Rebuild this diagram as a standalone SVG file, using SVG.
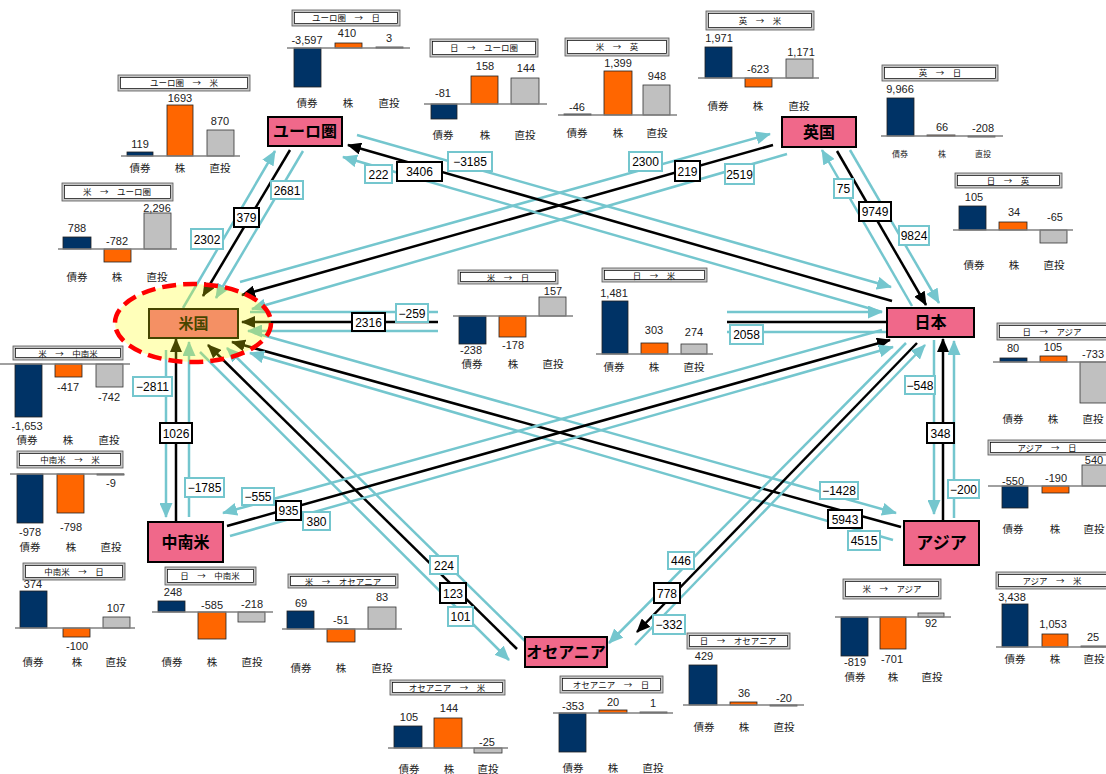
<svg xmlns="http://www.w3.org/2000/svg" width="1106" height="774" viewBox="0 0 1106 774">
<defs>
<marker id="ac" markerUnits="userSpaceOnUse" markerWidth="15" markerHeight="13" refX="14" refY="6.5" orient="auto"><path d="M0,0 L15,6.5 L0,13 z" fill="#74C6CE"/></marker>
<marker id="ab" markerUnits="userSpaceOnUse" markerWidth="14" markerHeight="12" refX="13" refY="6" orient="auto"><path d="M0,0 L14,6 L0,12 z" fill="#000"/></marker>
<style>
.cy{stroke:#74C6CE;stroke-width:2.5;fill:none;marker-end:url(#ac)}
.bk{stroke:#000;stroke-width:2.5;fill:none;marker-end:url(#ab)}
.nm{marker-end:none}
.lc{fill:#fff;stroke:#74C6CE;stroke-width:2}
.lb{fill:#fff;stroke:#000;stroke-width:2}
.lt{font-family:"Liberation Sans",Arial,sans-serif;font-size:12px;text-anchor:middle;fill:#000}
.nd{fill:#F0688A;stroke:#000;stroke-width:2}
.nt{font-family:"Noto Sans CJK JP",sans-serif;font-weight:bold;font-size:15px;text-anchor:middle;fill:#000}
.to{fill:#c8c8c8;stroke:#555;stroke-width:0.8}
.ti{fill:#fff;stroke:#000;stroke-width:0.7}
.tt{font-family:"Noto Sans CJK JP",sans-serif;font-size:8.5px;text-anchor:middle;fill:#111}
.bs{stroke:#808080;stroke-width:1.5}
.n{fill:#003366;stroke:#222;stroke-width:0.8}
.o{fill:#FF6600;stroke:#222;stroke-width:0.8}
.g{fill:#C0C0C0;stroke:#333;stroke-width:0.8}
.v{font-family:"Liberation Sans",Arial,sans-serif;font-size:11px;text-anchor:middle;fill:#222}
.k{font-family:"Noto Sans CJK JP",sans-serif;font-size:10.5px;text-anchor:middle;fill:#222}
.ks{font-family:"Noto Sans CJK JP",sans-serif;font-size:8px;text-anchor:middle;fill:#222}
</style>
</defs>
<rect width="1106" height="774" fill="#fff"/>

<g id="connectors">
<path class="cy" d="M183,308 L275,151"/>
<path class="bk" d="M290,150 L203,296"/>
<path class="cy" d="M303,151 L216,298"/>
<path class="cy" d="M240,282 L770,134"/>
<path class="bk" d="M773,145 L242,295"/>
<path class="cy" d="M787,154 L252,309"/>
<path class="cy nm" d="M250,312 L438,312"/>
<path class="bk" d="M438,322 L242,322"/>
<path class="cy" d="M438,331 L248,331"/>
<path class="cy" d="M727,312 L882,312"/>
<path class="bk nm" d="M727,322 L887,322"/>
<path class="cy nm" d="M727,332 L887,332"/>
<path class="cy" d="M166,350 L166,517"/>
<path class="bk" d="M176,522 L176,339"/>
<path class="cy" d="M189,517 L189,342"/>
<path class="bk" d="M517,649 L208,345"/>
<path class="cy" d="M525,641 L227,348"/>
<path class="cy" d="M200,352 L509,660"/>
<path class="cy" d="M255,333 L896,513"/>
<path class="bk" d="M901,527 L232,342"/>
<path class="cy" d="M893,540 L250,353"/>
<path class="cy" d="M912,306 L822,150"/>
<path class="bk" d="M837,151 L926,305"/>
<path class="cy" d="M850,150 L939,303"/>
<path class="cy" d="M357,135 L891,287"/>
<path class="bk" d="M892,301 L348,145"/>
<path class="cy" d="M882,312 L343,157"/>
<path class="bk" d="M227,526 L890,340"/>
<path class="cy" d="M882,330 L223,513"/>
<path class="cy" d="M230,536 L893,347"/>
<path class="cy" d="M906,343 L609,643"/>
<path class="bk" d="M917,343 L637,632"/>
<path class="cy" d="M635,645 L925,345"/>
<path class="cy" d="M934,340 L934,514"/>
<path class="bk" d="M943,521 L943,339"/>
<path class="cy" d="M954,518 L954,341"/>

<rect class="lb" x="234" y="208" width="25" height="19"/><text class="lt" x="246.5" y="222">379</text>
<rect class="lb" x="397" y="162" width="45" height="19"/><text class="lt" x="419.5" y="176">3406</text>
<rect class="lb" x="675" y="161" width="25" height="20"/><text class="lt" x="687.5" y="175.5">219</text>
<rect class="lb" x="859" y="202" width="32" height="19"/><text class="lt" x="875" y="216">9749</text>
<rect class="lb" x="352" y="313" width="33" height="18"/><text class="lt" x="368.5" y="326.5">2316</text>
<rect class="lb" x="160" y="423" width="32" height="20"/><text class="lt" x="176" y="437.5">1026</text>
<rect class="lb" x="276" y="501" width="25" height="19"/><text class="lt" x="288.5" y="515">935</text>
<rect class="lb" x="828" y="510" width="34" height="18"/><text class="lt" x="845" y="523.5">5943</text>
<rect class="lb" x="440" y="583" width="26" height="20"/><text class="lt" x="453" y="597.5">123</text>
<rect class="lb" x="654" y="583" width="26" height="20"/><text class="lt" x="667" y="597.5">778</text>
<rect class="lb" x="927" y="423" width="27" height="20"/><text class="lt" x="940.5" y="437.5">348</text>

<rect class="lc" x="191" y="229" width="32" height="20"/><text class="lt" x="207" y="243.5">2302</text>
<rect class="lc" x="271" y="181" width="32" height="18"/><text class="lt" x="287" y="194.5">2681</text>
<rect class="lc" x="365" y="165" width="27" height="18"/><text class="lt" x="378.5" y="178.5">222</text>
<rect class="lc" x="448" y="152" width="44" height="19"/><text class="lt" x="470" y="166">−3185</text>
<rect class="lc" x="629" y="152" width="33" height="19"/><text class="lt" x="645.5" y="166">2300</text>
<rect class="lc" x="725" y="164" width="29" height="20"/><text class="lt" x="739.5" y="178.5">2519</text>
<rect class="lc" x="834" y="179" width="19" height="19"/><text class="lt" x="843.5" y="193">75</text>
<rect class="lc" x="899" y="226" width="30" height="19"/><text class="lt" x="914" y="240">9824</text>
<rect class="lc" x="396" y="304" width="32" height="18"/><text class="lt" x="412" y="317.5">−259</text>
<rect class="lc" x="730" y="325" width="33" height="19"/><text class="lt" x="746.5" y="339">2058</text>
<rect class="lc" x="133" y="377" width="39" height="19"/><text class="lt" x="152.5" y="391">−2811</text>
<rect class="lc" x="185" y="478" width="39" height="19"/><text class="lt" x="204.5" y="492">−1785</text>
<rect class="lc" x="242" y="488" width="32" height="17"/><text class="lt" x="258" y="501">−555</text>
<rect class="lc" x="303" y="512" width="27" height="18"/><text class="lt" x="316.5" y="525.5">380</text>
<rect class="lc" x="820" y="482" width="38" height="17"/><text class="lt" x="839" y="495">−1428</text>
<rect class="lc" x="848" y="531" width="32" height="19"/><text class="lt" x="864" y="545">4515</text>
<rect class="lc" x="430" y="556" width="28" height="18"/><text class="lt" x="444" y="569.5">224</text>
<rect class="lc" x="448" y="607" width="25" height="19"/><text class="lt" x="460.5" y="621">101</text>
<rect class="lc" x="668" y="552" width="26" height="17"/><text class="lt" x="681" y="565">446</text>
<rect class="lc" x="653" y="615" width="32" height="19"/><text class="lt" x="669" y="629">−332</text>
<rect class="lc" x="905" y="376" width="30" height="18"/><text class="lt" x="920" y="389.5">−548</text>
<rect class="lc" x="948" y="480" width="31" height="18"/><text class="lt" x="963.5" y="493.5">−200</text>
</g>

<g id="node-euro"><rect class="nd" x="268" y="117" width="74" height="29"/><text class="nt" x="305" y="137" style="font-size:16px">ユーロ圏</text></g>
<g id="node-uk"><rect class="nd" x="782" y="117" width="74" height="30"/><text class="nt" x="819" y="138" style="font-size:16px">英国</text></g>
<g id="node-japan"><rect class="nd" x="887" y="308" width="87" height="29"/><text class="nt" x="930.5" y="328" style="font-size:16px">日本</text></g>
<g id="node-asia"><rect class="nd" x="904" y="521" width="75" height="44"/><text class="nt" x="941.5" y="549" style="font-size:17px">アジア</text></g>
<g id="node-latam"><rect class="nd" x="148" y="522" width="75" height="40"/><text class="nt" x="185.5" y="548" style="font-size:16px">中南米</text></g>
<g id="node-oceania"><rect class="nd" x="525" y="637" width="82" height="30"/><text class="nt" x="566" y="658" style="font-size:16px">オセアニア</text></g>
<g id="node-us">
<rect class="nd" x="149" y="309" width="89" height="29"/><text class="nt" x="193.5" y="329">米国</text>
<ellipse cx="193" cy="323" rx="78" ry="39" fill="#FFFF00" fill-opacity="0.27" stroke="#FF0000" stroke-width="4.5" stroke-dasharray="14 7"/>
</g>

<g id="chart-eu-jp">
<rect class="to" x="292" y="10" width="108" height="16"/><rect class="ti" x="294.5" y="12.5" width="103" height="11"/>
<text class="tt" x="346" y="21">ユーロ圏　→　日</text>
<rect class="n" x="294" y="48" width="27" height="39"/><rect class="o" x="335" y="43" width="27" height="5"/><rect class="g" x="376" y="47" width="27" height="1"/>
<line class="bs" x1="287" y1="48" x2="410" y2="48"/>
<text class="v" x="307" y="44">-3,597</text><text class="v" x="347" y="37">410</text><text class="v" x="389" y="42">3</text>
<text class="k" x="307" y="107">債券</text><text class="k" x="348" y="107">株</text><text class="k" x="389" y="107">直投</text>
</g>
<g id="chart-jp-eu">
<rect class="to" x="430" y="39" width="108" height="18"/><rect class="ti" x="432.5" y="41.5" width="103" height="13"/>
<text class="tt" x="484" y="51">日　→　ユーロ圏</text>
<rect class="n" x="431" y="104" width="26" height="15"/><rect class="o" x="471" y="76" width="27" height="28"/><rect class="g" x="511" y="78" width="28" height="26"/>
<line class="bs" x1="424" y1="104" x2="547" y2="104"/>
<text class="v" x="443" y="97">-81</text><text class="v" x="485" y="70">158</text><text class="v" x="526" y="72">144</text>
<text class="k" x="443" y="139">債券</text><text class="k" x="485" y="139">株</text><text class="k" x="525" y="139">直投</text>
</g>
<g id="chart-us-uk">
<rect class="to" x="565" y="38" width="104" height="18"/><rect class="ti" x="567.5" y="40.5" width="99" height="13"/>
<text class="tt" x="617" y="50">米　→　英</text>
<rect class="n" x="564" y="114" width="27" height="1"/><rect class="o" x="604" y="71" width="28" height="44"/><rect class="g" x="643" y="85" width="27" height="30"/>
<line class="bs" x1="558" y1="115" x2="677" y2="115"/>
<text class="v" x="577" y="111">-46</text><text class="v" x="618" y="67">1,399</text><text class="v" x="657" y="80">948</text>
<text class="k" x="577" y="137">債券</text><text class="k" x="618" y="137">株</text><text class="k" x="657" y="137">直投</text>
</g>
<g id="chart-uk-us">
<rect class="to" x="706" y="11" width="108" height="19"/><rect class="ti" x="708.5" y="13.5" width="103" height="14"/>
<text class="tt" x="760" y="24">英　→　米</text>
<rect class="n" x="705" y="47" width="27" height="31"/><rect class="o" x="745" y="78" width="27" height="9"/><rect class="g" x="786" y="59" width="27" height="19"/>
<line class="bs" x1="698" y1="78" x2="819" y2="78"/>
<text class="v" x="719" y="42">1,971</text><text class="v" x="758" y="73">-623</text><text class="v" x="801" y="56">1,171</text>
<text class="k" x="718" y="110">債券</text><text class="k" x="758" y="110">株</text><text class="k" x="799" y="110">直投</text>
</g>
<g id="chart-uk-jp">
<rect class="to" x="882" y="65" width="116" height="16"/><rect class="ti" x="884.5" y="67.5" width="111" height="11"/>
<text class="tt" x="940" y="76">英　→　日</text>
<rect class="n" x="887" y="98" width="27" height="38"/><rect class="o" x="927" y="135" width="28" height="1"/><rect class="g" x="968" y="136" width="27" height="1"/>
<line class="bs" x1="881" y1="136" x2="1003" y2="136"/>
<text class="v" x="900" y="93">9,966</text><text class="v" x="942" y="131">66</text><text class="v" x="983" y="132">-208</text>
<text class="ks" x="900" y="157">債券</text><text class="ks" x="942" y="157">株</text><text class="ks" x="983" y="157">直投</text>
</g>
<g id="chart-jp-uk">
<rect class="to" x="955" y="173" width="107" height="15"/><rect class="ti" x="957.5" y="175.5" width="102" height="10"/>
<text class="tt" x="1008" y="184">日　→　英</text>
<rect class="n" x="959" y="206" width="27" height="24"/><rect class="o" x="999" y="222" width="28" height="8"/><rect class="g" x="1040" y="230" width="27" height="13"/>
<line class="bs" x1="953" y1="230" x2="1073" y2="230"/>
<text class="v" x="974" y="201">105</text><text class="v" x="1014" y="216">34</text><text class="v" x="1055" y="221">-65</text>
<text class="k" x="974" y="269">債券</text><text class="k" x="1014" y="269">株</text><text class="k" x="1054" y="269">直投</text>
</g>
<g id="chart-eu-us">
<rect class="to" x="118" y="75" width="132" height="16"/><rect class="ti" x="120.5" y="77.5" width="127" height="11"/>
<text class="tt" x="184" y="86">ユーロ圏　→　米</text>
<rect class="n" x="127" y="152" width="26" height="4"/><rect class="o" x="167" y="105" width="26" height="51"/><rect class="g" x="207" y="130" width="27" height="26"/>
<line class="bs" x1="121" y1="156" x2="240" y2="156"/>
<text class="v" x="140" y="148">119</text><text class="v" x="180" y="102">1693</text><text class="v" x="220" y="125">870</text>
<text class="k" x="140" y="172">債券</text><text class="k" x="180" y="172">株</text><text class="k" x="220" y="172">直投</text>
</g>
<g id="chart-us-eu">
<rect class="to" x="62" y="183" width="111" height="18"/><rect class="ti" x="64.5" y="185.5" width="106" height="13"/>
<text class="tt" x="117" y="195">米　→　ユーロ圏</text>
<rect class="n" x="63" y="237" width="28" height="12"/><rect class="o" x="104" y="249" width="27" height="13"/><rect class="g" x="144" y="213" width="27" height="36"/>
<line class="bs" x1="58" y1="249" x2="177" y2="249"/>
<text class="v" x="77" y="232">788</text><text class="v" x="117" y="245">-782</text><text class="v" x="157" y="212">2,296</text>
<text class="k" x="77" y="281">債券</text><text class="k" x="117" y="281">株</text><text class="k" x="157" y="281">直投</text>
</g>
<g id="chart-us-jp">
<rect class="to" x="458" y="270" width="100" height="14"/><rect class="ti" x="460.5" y="272.5" width="95" height="9"/>
<text class="tt" x="508" y="280.5">米　→　日</text>
<rect class="n" x="459" y="316" width="27" height="28"/><rect class="o" x="499" y="316" width="27" height="21"/><rect class="g" x="539" y="297" width="27" height="19"/>
<line class="bs" x1="453" y1="316" x2="573" y2="316"/>
<text class="v" x="471" y="354">-238</text><text class="v" x="513" y="349">-178</text><text class="v" x="553" y="295">157</text>
<text class="k" x="472" y="368">債券</text><text class="k" x="513" y="368">株</text><text class="k" x="553" y="368">直投</text>
</g>
<g id="chart-jp-us">
<rect class="to" x="602" y="268" width="105" height="14"/><rect class="ti" x="604.5" y="270.5" width="100" height="9"/>
<text class="tt" x="654" y="278.5">日　→　米</text>
<rect class="n" x="602" y="301" width="26" height="53"/><rect class="o" x="641" y="343" width="27" height="11"/><rect class="g" x="681" y="344" width="26" height="10"/>
<line class="bs" x1="596" y1="354" x2="713" y2="354"/>
<text class="v" x="614" y="297">1,481</text><text class="v" x="654" y="334">303</text><text class="v" x="694" y="336">274</text>
<text class="k" x="614" y="371">債券</text><text class="k" x="654" y="371">株</text><text class="k" x="694" y="371">直投</text>
</g>
<g id="chart-us-la">
<rect class="to" x="13" y="346" width="110" height="14"/><rect class="ti" x="15.5" y="348.5" width="105" height="9"/>
<text class="tt" x="68" y="356.5">米　→　中南米</text>
<rect class="n" x="15" y="364" width="27" height="53"/><rect class="o" x="55" y="364" width="27" height="13"/><rect class="g" x="96" y="364" width="27" height="23"/>
<line class="bs" x1="0" y1="364" x2="130" y2="364"/>
<text class="v" x="27" y="430">-1,653</text><text class="v" x="68" y="391">-417</text><text class="v" x="109" y="401">-742</text>
<text class="k" x="27" y="444">債券</text><text class="k" x="68" y="444">株</text><text class="k" x="109" y="444">直投</text>
</g>
<g id="chart-la-us">
<rect class="to" x="17" y="451" width="106" height="17"/><rect class="ti" x="19.5" y="453.5" width="101" height="12"/>
<text class="tt" x="70" y="463">中南米　→　米</text>
<rect class="n" x="17" y="474" width="26" height="49"/><rect class="o" x="57" y="474" width="27" height="39"/><rect class="g" x="97" y="474" width="27" height="1"/>
<line class="bs" x1="10" y1="474" x2="124" y2="474"/>
<text class="v" x="30" y="536">-978</text><text class="v" x="71" y="531">-798</text><text class="v" x="111" y="487">-9</text>
<text class="k" x="30" y="551">債券</text><text class="k" x="71" y="551">株</text><text class="k" x="111" y="551">直投</text>
</g>
<g id="chart-la-jp">
<rect class="to" x="23" y="563" width="102" height="17"/><rect class="ti" x="25.5" y="565.5" width="97" height="12"/>
<text class="tt" x="74" y="575">中南米　→　日</text>
<rect class="n" x="20" y="591" width="27" height="37"/><rect class="o" x="63" y="628" width="27" height="9"/><rect class="g" x="103" y="617" width="27" height="11"/>
<line class="bs" x1="15" y1="628" x2="135" y2="628"/>
<text class="v" x="33" y="588">374</text><text class="v" x="77" y="650">-100</text><text class="v" x="116" y="612">107</text>
<text class="k" x="33" y="666">債券</text><text class="k" x="77" y="666">株</text><text class="k" x="116" y="666">直投</text>
</g>
<g id="chart-jp-la">
<rect class="to" x="165" y="567" width="91" height="18"/><rect class="ti" x="167.5" y="569.5" width="86" height="13"/>
<text class="tt" x="210" y="579">日　→　中南米</text>
<rect class="n" x="158" y="601" width="27" height="11"/><rect class="o" x="198" y="612" width="28" height="27"/><rect class="g" x="238" y="612" width="27" height="10"/>
<line class="bs" x1="152" y1="612" x2="273" y2="612"/>
<text class="v" x="173" y="596">248</text><text class="v" x="212" y="609">-585</text><text class="v" x="252" y="608">-218</text>
<text class="k" x="172" y="666">債券</text><text class="k" x="212" y="666">株</text><text class="k" x="252" y="666">直投</text>
</g>
<g id="chart-us-oc">
<rect class="to" x="288" y="574" width="110" height="14"/><rect class="ti" x="290.5" y="576.5" width="105" height="9"/>
<text class="tt" x="343" y="584.5">米　→　オセアニア</text>
<rect class="n" x="287" y="611" width="27" height="18"/><rect class="o" x="327" y="629" width="28" height="13"/><rect class="g" x="368" y="607" width="28" height="22"/>
<line class="bs" x1="282" y1="629" x2="402" y2="629"/>
<text class="v" x="301" y="607">69</text><text class="v" x="341" y="624">-51</text><text class="v" x="382" y="601">83</text>
<text class="k" x="301" y="672">債券</text><text class="k" x="341" y="672">株</text><text class="k" x="382" y="672">直投</text>
</g>
<g id="chart-oc-us">
<rect class="to" x="390" y="680" width="115" height="15"/><rect class="ti" x="392.5" y="682.5" width="110" height="10"/>
<text class="tt" x="447" y="691">オセアニア　→　米</text>
<rect class="n" x="394" y="726" width="28" height="22"/><rect class="o" x="434" y="718" width="28" height="30"/><rect class="g" x="474" y="748" width="28" height="5"/>
<line class="bs" x1="388" y1="748" x2="508" y2="748"/>
<text class="v" x="409" y="721">105</text><text class="v" x="449" y="712">144</text><text class="v" x="487" y="746">-25</text>
<text class="k" x="409" y="773">債券</text><text class="k" x="449" y="773">株</text><text class="k" x="488" y="773">直投</text>
</g>
<g id="chart-oc-jp">
<rect class="to" x="560" y="676" width="103" height="17"/><rect class="ti" x="562.5" y="678.5" width="98" height="12"/>
<text class="tt" x="611" y="688">オセアニア　→　日</text>
<rect class="n" x="559" y="713" width="27" height="39"/><rect class="o" x="599" y="710" width="28" height="3"/><rect class="g" x="640" y="712" width="27" height="1"/>
<line class="bs" x1="553" y1="713" x2="673" y2="713"/>
<text class="v" x="573" y="710">-353</text><text class="v" x="613" y="706">20</text><text class="v" x="653" y="707">1</text>
<text class="k" x="573" y="772">債券</text><text class="k" x="613" y="772">株</text><text class="k" x="653" y="772">直投</text>
</g>
<g id="chart-jp-oc">
<rect class="to" x="687" y="633" width="103" height="16"/><rect class="ti" x="689.5" y="635.5" width="98" height="11"/>
<text class="tt" x="738" y="644">日　→　オセアニア</text>
<rect class="n" x="689" y="665" width="28" height="40"/><rect class="o" x="730" y="702" width="27" height="3"/><rect class="g" x="770" y="705" width="27" height="1"/>
<line class="bs" x1="683" y1="705" x2="804" y2="705"/>
<text class="v" x="704" y="660">429</text><text class="v" x="744" y="697">36</text><text class="v" x="784" y="702">-20</text>
<text class="k" x="704" y="731">債券</text><text class="k" x="744" y="731">株</text><text class="k" x="784" y="731">直投</text>
</g>
<g id="chart-us-as">
<rect class="to" x="843" y="579" width="98" height="20"/><rect class="ti" x="845.5" y="581.5" width="93" height="15"/>
<text class="tt" x="892" y="592">米　→　アジア</text>
<rect class="n" x="841" y="617" width="27" height="39"/><rect class="o" x="880" y="617" width="26" height="32"/><rect class="g" x="918" y="613" width="26" height="4"/>
<line class="bs" x1="835" y1="617" x2="951" y2="617"/>
<text class="v" x="855" y="666">-819</text><text class="v" x="892" y="663">-701</text><text class="v" x="931" y="627">92</text>
<text class="k" x="855" y="681">債券</text><text class="k" x="893" y="681">株</text><text class="k" x="932" y="681">直投</text>
</g>
<g id="chart-as-us">
<rect class="to" x="996" y="572" width="120" height="17"/><rect class="ti" x="998.5" y="574.5" width="115" height="12"/>
<text class="tt" x="1052" y="584">アジア　→　米</text>
<rect class="n" x="1002" y="604" width="26" height="43"/><rect class="o" x="1042" y="634" width="26" height="13"/><rect class="g" x="1081" y="646" width="26" height="1"/>
<line class="bs" x1="996" y1="647" x2="1106" y2="647"/>
<text class="v" x="1012" y="601">3,438</text><text class="v" x="1053" y="628">1,053</text><text class="v" x="1093" y="641">25</text>
<text class="k" x="1015" y="663">債券</text><text class="k" x="1055" y="663">株</text><text class="k" x="1094" y="663">直投</text>
</g>
<g id="chart-jp-as">
<rect class="to" x="997" y="323" width="120" height="17"/><rect class="ti" x="999.5" y="325.5" width="115" height="12"/>
<text class="tt" x="1052" y="335">日　→　アジア</text>
<rect class="n" x="1000" y="358" width="27" height="4"/><rect class="o" x="1040" y="356" width="27" height="6"/><rect class="g" x="1080" y="362" width="30" height="41"/>
<line class="bs" x1="993" y1="362" x2="1106" y2="362"/>
<text class="v" x="1013" y="352">80</text><text class="v" x="1053" y="351">105</text><text class="v" x="1093" y="358">-733</text>
<text class="k" x="1013" y="423">債券</text><text class="k" x="1053" y="423">株</text><text class="k" x="1093" y="423">直投</text>
</g>
<g id="chart-as-jp">
<rect class="to" x="988" y="440" width="125" height="15"/><rect class="ti" x="990.5" y="442.5" width="120" height="10"/>
<text class="tt" x="1047" y="451">アジア　→　日</text>
<rect class="n" x="1002" y="486" width="26" height="22"/><rect class="o" x="1042" y="486" width="27" height="7"/><rect class="g" x="1082" y="465" width="30" height="21"/>
<line class="bs" x1="988" y1="486" x2="1106" y2="486"/>
<text class="v" x="1013" y="485">-550</text><text class="v" x="1056" y="482">-190</text><text class="v" x="1094" y="464">540</text>
<text class="k" x="1013" y="533">債券</text><text class="k" x="1055" y="533">株</text><text class="k" x="1094" y="533">直投</text>
</g>
</svg>
